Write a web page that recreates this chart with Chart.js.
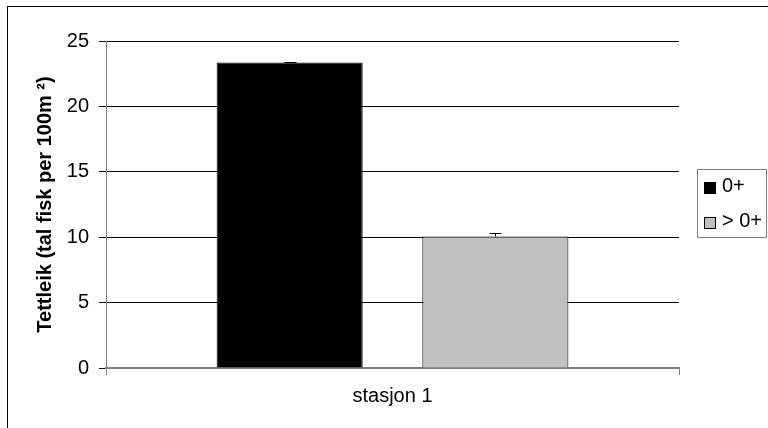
<!DOCTYPE html>
<html>
<head>
<meta charset="utf-8">
<title>Tettleik</title>
<script src="https://cdn.jsdelivr.net/npm/chart.js@4/dist/chart.umd.min.js"></script>
<style>
  html, body { margin: 0; padding: 0; background: #fff; }
  #wrap { width: 768px; height: 428px; }
</style>
</head>
<body>
<div id="wrap"><canvas id="grafico" width="768" height="428"></canvas></div>
<script>
// data
const kategoriar = ["stasjon 1"];
const serieNamn = ["0+", "> 0+"];
const verdiar0 = [23.35];
const verdiar1 = [10.05];
const feil0 = [0.05];
const feil1 = [0.25];
const yTicks = [0, 5, 10, 15, 20, 25];
const farger = ["#000000", "#c0c0c0"];

Chart.defaults.font.family = "'Liberation Sans', Arial, sans-serif";
Chart.defaults.font.size = 20;
Chart.defaults.color = "#000";

// white background + outer frame
const rammePlugin = {
    id: "ramme",
    beforeDraw(chart) {
        let c = chart.ctx;
        c.save();
        c.fillStyle = "#fff";
        c.fillRect(0, 0, chart.width, chart.height);
        c.strokeStyle = "#000";
        c.lineWidth = 1;
        c.strokeRect(7.5, 6.5, 900, 600);
        c.restore();
    }
};

// error bars, only upward
const feilPlugin = {
    id: "feil",
    afterDatasetsDraw(chart) {
        let c = chart.ctx;
        let y = chart.scales.y;
        let alleFeil = [feil0, feil1];
        c.save();
        c.strokeStyle = "#000";
        c.lineWidth = 1;
        chart.data.datasets.forEach((ds, i) => {
            let meta = chart.getDatasetMeta(i);
            meta.data.forEach((bar, j) => {
                let x = Math.round(bar.x) + 0.5;
                let y0 = y.getPixelForValue(ds.data[j]);
                let y1 = Math.round(y.getPixelForValue(ds.data[j] + alleFeil[i][j])) + 0.5;
                c.beginPath();
                c.moveTo(x, y0);
                c.lineTo(x, y1);
                c.moveTo(x - 6, y1);
                c.lineTo(x + 6, y1);
                c.stroke();
            });
        });
        c.restore();
    }
};

// legend with box, drawn by hand
const legendPlugin = {
    id: "legendBoks",
    afterDraw(chart) {
        let c = chart.ctx;
        c.save();
        c.strokeStyle = "#808080";
        c.lineWidth = 1;
        c.strokeRect(697.5, 169.5, 69, 68);
        let rader = [182, 217];
        c.font = "20px 'Liberation Sans', Arial, sans-serif";
        c.textBaseline = "alphabetic";
        serieNamn.forEach((namn, i) => {
            c.fillStyle = farger[i];
            c.fillRect(704, rader[i], 12, 12);
            c.strokeStyle = "#000";
            c.strokeRect(704.5, rader[i] + 0.5, 11, 11);
            c.fillStyle = "#000";
            c.fillText(namn, 722, rader[i] + 10);
        });
        c.restore();
    }
};

let ctx = document.getElementById("grafico").getContext("2d");

let grafico = new Chart(ctx, {
    type: "bar",
    data: {
        labels: kategoriar,
        datasets: [{
            label: serieNamn[0],
            data: verdiar0,
            backgroundColor: farger[0],
            borderColor: "#000",
            borderWidth: 1,
            categoryPercentage: 0.718,
            barPercentage: 0.71
        }, {
            label: serieNamn[1],
            data: verdiar1,
            backgroundColor: farger[1],
            borderColor: "#000",
            borderWidth: 1,
            categoryPercentage: 0.718,
            barPercentage: 0.71
        }]
    },
    options: {
        responsive: false,
        animation: false,
        layout: {
            padding: { top: 41, right: 89, bottom: 0, left: 29 }
        },
        scales: {
            x: {
                grid: {
                    drawOnChartArea: false,
                    drawTicks: true,
                    tickLength: 7,
                    color: "#808080"
                },
                border: { color: "#808080", width: 2 },
                ticks: { padding: 9, color: "#000" },
                afterFit(scale) { scale.height = 60; }
            },
            y: {
                min: 0,
                max: 25,
                afterBuildTicks(scale) {
                    scale.ticks = yTicks.map(v => ({ value: v }));
                },
                grid: {
                    color: "#000",
                    tickLength: 7
                },
                border: { color: "#808080", width: 1 },
                ticks: { padding: 10, color: "#000" },
                title: {
                    display: true,
                    text: "Tettleik (tal fisk per 100m ²)",
                    font: { weight: "bold", size: 20 },
                    color: "#000",
                    padding: { top: 4, bottom: 4 }
                },
                afterFit(scale) { scale.width = 77; }
            }
        },
        plugins: {
            legend: { display: false },
            tooltip: { enabled: false }
        }
    },
    plugins: [rammePlugin, feilPlugin, legendPlugin]
});
</script>
</body>
</html>
